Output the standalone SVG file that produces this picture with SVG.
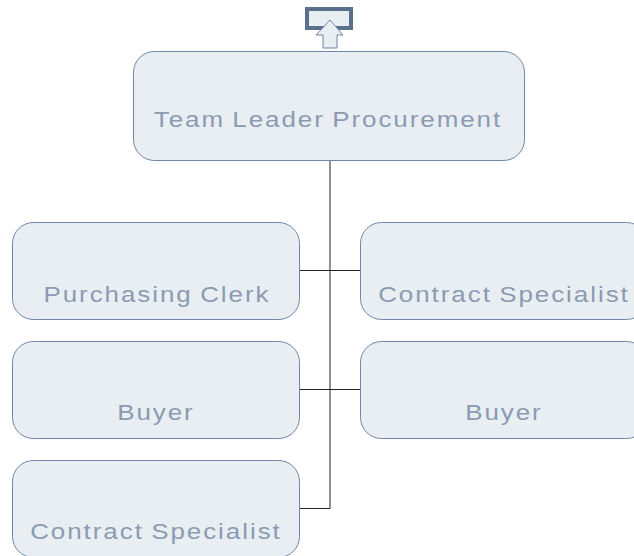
<svg xmlns="http://www.w3.org/2000/svg" width="634" height="556" viewBox="0 0 634 556">
<style>
.box{fill:#e9eef2;stroke:#7186a8;stroke-width:1}
.lbl{font-family:"Liberation Sans",Arial,sans-serif;font-size:22px;fill:#8a9bb2;letter-spacing:1.65px;word-spacing:-1.5px;text-anchor:middle}
.vline{stroke:#555;stroke-width:1.3;fill:none}
.hline{stroke:#222;stroke-width:1;fill:none}
</style>
<rect width="634" height="556" fill="#fff"/>
<g id="connectors">
<line class="vline" x1="330" y1="161" x2="330" y2="508.5"/>
<line class="hline" x1="299" y1="270.5" x2="360" y2="270.5"/>
<line class="hline" x1="299" y1="389.5" x2="360" y2="389.5"/>
<line class="hline" x1="299" y1="508.5" x2="330" y2="508.5"/>
</g>
<g id="icon">
<rect x="307" y="9" width="44" height="19" fill="#e9eef2" stroke="#5b6f8f" stroke-width="4"/>
<path d="M330,20 L343,35 L337,35 L337,48 L323,48 L323,35 L316,35 Z" fill="#e9eef2" stroke="#6f84a6" stroke-width="1"/>
</g>
<g id="n0">
<rect class="box" x="133.5" y="51.5" width="391" height="109" rx="21"/>
<text class="lbl" x="0.8" y="0" transform="translate(327,127) scale(1.18,1)">Team Leader Procurement</text>
</g>
<g id="n1">
<rect class="box" x="12.5" y="222.5" width="287" height="97" rx="21"/>
<text class="lbl" x="0.8" y="0" transform="translate(156,302) scale(1.18,1)">Purchasing Clerk</text>
</g>
<g id="n2">
<rect class="box" x="360.5" y="222.5" width="287" height="97" rx="21"/>
<text class="lbl" x="0.8" y="0" transform="translate(503,302) scale(1.18,1)">Contract Specialist</text>
</g>
<g id="n3">
<rect class="box" x="12.5" y="341.5" width="287" height="97" rx="21"/>
<text class="lbl" x="0.8" y="0" transform="translate(155,420) scale(1.18,1)">Buyer</text>
</g>
<g id="n4">
<rect class="box" x="360.5" y="341.5" width="287" height="97" rx="21"/>
<text class="lbl" x="0.8" y="0" transform="translate(503,420) scale(1.18,1)">Buyer</text>
</g>
<g id="n5">
<rect class="box" x="12.5" y="460.5" width="287" height="97" rx="21"/>
<text class="lbl" x="0.8" y="0" transform="translate(155,539) scale(1.18,1)">Contract Specialist</text>
</g>
</svg>
